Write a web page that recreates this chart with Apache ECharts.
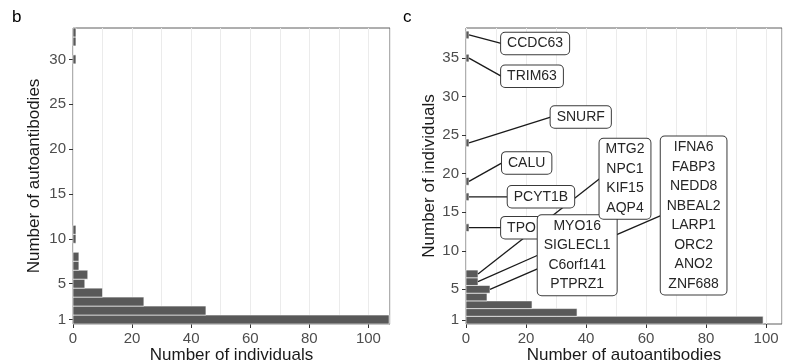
<!DOCTYPE html>
<html>
<head>
<meta charset="utf-8">
<script src="https://cdn.jsdelivr.net/npm/echarts@6/dist/echarts.min.js"></script>
<style>
  html, body { margin: 0; padding: 0; background: #fff; }
  #chart { width: 791px; height: 363px; }
</style>
</head>
<body>
<div id="chart"></div>
<script>
// Panel b: how many autoantibodies each individual carries
const autoantibodiesPerIndividual = [1, 2, 3, 4, 5, 6, 7, 8, 10, 11, 30, 32, 33];
const individualCounts = [107, 45, 24, 10, 4, 5, 2, 2, 1, 1, 1, 1, 1];

// Panel c: in how many individuals each autoantibody occurs
const individualsPerAutoantibody = [1, 2, 3, 4, 5, 6, 7, 13, 17, 19, 24, 35, 38];
const autoantibodyCounts = [99, 37, 22, 7, 8, 4, 4, 1, 1, 1, 1, 1, 1];

// Named autoantibodies, grouped by the number of individuals they occur in
const namedAt = [38, 35, 24, 19, 17, 13, 6, 7, 5];
const namedGroups = [
  ['CCDC63'],
  ['TRIM63'],
  ['SNURF'],
  ['CALU'],
  ['PCYT1B'],
  ['TPO'],
  ['MYO16', 'SIGLECL1', 'C6orf141', 'PTPRZ1'],
  ['MTG2', 'NPC1', 'KIF15', 'AQP4'],
  ['IFNA6', 'FABP3', 'NEDD8', 'NBEAL2', 'LARP1', 'ORC2', 'ANO2', 'ZNF688']
];

// Tick labels
const xTicks = [0, 20, 40, 60, 80, 100];
const yTicksB = [1, 5, 10, 15, 20, 25, 30];
const yTicksC = [1, 5, 10, 15, 20, 25, 30, 35];

// Where each label box is placed (left-middle of the box, in panel c data units)
const labelBoxAnchor = [
  [11.7, 36.9], [11.7, 32.65], [28.2, 27.35], [12.0, 21.4], [13.9, 17.0],
  [11.7, 13.0], [23.9, 9.42], [44.5, 19.34], [64.9, 14.57]
];

const FONT_FAMILY = '"Liberation Sans", Arial, Helvetica, sans-serif';
const LABEL_FONT = '14px ' + FONT_FAMILY;
const LABEL_PAD_X = 6;
const LABEL_PAD_Y = 1;

const measureCtx = document.createElement('canvas').getContext('2d');
measureCtx.font = LABEL_FONT;
function boxWidth(lines) {
  let w = 0;
  lines.forEach(function (t) { w = Math.max(w, measureCtx.measureText(t).width); });
  return w + 2 * LABEL_PAD_X;
}

function barItem(params, api) {
  const v = api.value(0);
  const lv = api.value(1);
  const p0 = api.coord([0, lv + 0.5]);
  const p1 = api.coord([v, lv - 0.5]);
  return {
    type: 'rect',
    shape: { x: p0[0], y: p0[1], width: p1[0] - p0[0], height: p1[1] - p0[1] },
    style: { fill: '#595959', stroke: '#ffffff', lineWidth: 0.6 }
  };
}

function segmentItem(params, api) {
  const a = api.coord([api.value(0), api.value(1)]);
  const b = api.coord(labelBoxAnchor[params.dataIndex]);
  return {
    type: 'line',
    shape: { x1: a[0], y1: a[1], x2: b[0], y2: b[1] },
    style: { stroke: '#1a1a1a', lineWidth: 1.3 }
  };
}

function labelItem(params, api) {
  const lines = namedGroups[params.dataIndex];
  const b = api.coord(labelBoxAnchor[params.dataIndex]);
  const w = boxWidth(lines);
  return {
    type: 'text',
    x: b[0] + w / 2,
    y: b[1],
    style: {
      text: lines.join('\n'),
      font: LABEL_FONT,
      fill: '#262626',
      align: 'center',
      verticalAlign: 'middle',
      lineHeight: 19.5,
      backgroundColor: '#ffffff',
      borderColor: '#3a3a3a',
      borderWidth: 1,
      borderRadius: 4,
      padding: [LABEL_PAD_Y, LABEL_PAD_X]
    }
  };
}

const barsB = autoantibodiesPerIndividual.map(function (k, i) { return [individualCounts[i], k]; });
const barsC = individualsPerAutoantibody.map(function (k, i) { return [autoantibodyCounts[i], k]; });
const labelPoints = namedAt.map(function (k) {
  return [autoantibodyCounts[individualsPerAutoantibody.indexOf(k)], k];
});

const tickLabel = { color: '#4d4d4d', fontSize: 15, fontFamily: FONT_FAMILY };
const axisName = { color: '#1a1a1a', fontSize: 17, fontFamily: FONT_FAMILY };

function mainX(grid, max, title) {
  return {
    type: 'value', gridIndex: grid, min: 0, max: max, position: 'bottom',
    name: title, nameLocation: 'middle', nameGap: 23, nameTextStyle: axisName,
    nameMoveOverlap: false,
    axisLine: { show: false },
    axisTick: { show: true, length: 4, customValues: xTicks, lineStyle: { color: '#333', width: 1 } },
    axisLabel: Object.assign({ customValues: xTicks, margin: 7 }, tickLabel),
    splitLine: { show: false }
  };
}
function gridX(grid, max) {
  return {
    type: 'value', gridIndex: grid, min: 0, max: max, interval: 10, position: 'bottom',
    axisLine: { show: false }, axisTick: { show: false }, axisLabel: { show: false },
    splitLine: { show: true, lineStyle: { color: '#ebebeb', width: 1 } }
  };
}
function mainY(grid, max, ticks, title, gap) {
  return {
    type: 'value', gridIndex: grid, min: 0.5, max: max,
    name: title, nameLocation: 'middle', nameGap: gap, nameTextStyle: axisName,
    nameMoveOverlap: false,
    axisLine: { show: false },
    axisTick: { show: true, length: 4, customValues: ticks, lineStyle: { color: '#333', width: 1 } },
    axisLabel: Object.assign({ customValues: ticks, margin: 7 }, tickLabel),
    splitLine: { show: false }
  };
}

const gridBase = {
  show: true, borderColor: '#5e5e5e', borderWidth: 1, backgroundColor: 'transparent',
  containLabel: false, outerBoundsMode: 'none'
};

const chart = echarts.init(document.getElementById('chart'), null, { renderer: 'canvas' });
chart.setOption({
  animation: false,
  backgroundColor: '#ffffff',
  textStyle: { fontFamily: FONT_FAMILY },
  graphic: [
    { type: 'text', left: 12, top: 9, style: { text: 'b', font: '17px ' + FONT_FAMILY, fill: '#000' } },
    { type: 'text', left: 403, top: 9, style: { text: 'c', font: '17px ' + FONT_FAMILY, fill: '#000' } }
  ],
  grid: [
    Object.assign({ left: 73, top: 28, width: 317, height: 296 }, gridBase),
    Object.assign({ left: 466, top: 28, width: 316, height: 296 }, gridBase)
  ],
  xAxis: [
    mainX(0, 107.3, 'Number of individuals'),
    gridX(0, 107.3),
    mainX(1, 105.3, 'Number of autoantibodies'),
    gridX(1, 105.3)
  ],
  yAxis: [
    mainY(0, 33.5, yTicksB, 'Number of autoantibodies', 30),
    mainY(1, 38.9, yTicksC, 'Number of individuals', 28)
  ],
  series: [
    { type: 'custom', xAxisIndex: 0, yAxisIndex: 0, renderItem: barItem, data: barsB, z: 2 },
    { type: 'custom', xAxisIndex: 2, yAxisIndex: 1, renderItem: barItem, data: barsC, z: 2 },
    { type: 'custom', xAxisIndex: 2, yAxisIndex: 1, renderItem: segmentItem, data: labelPoints, z: 3, clip: false },
    { type: 'custom', xAxisIndex: 2, yAxisIndex: 1, renderItem: labelItem, data: labelPoints, z: 4, clip: false }
  ]
});
</script>
</body>
</html>
